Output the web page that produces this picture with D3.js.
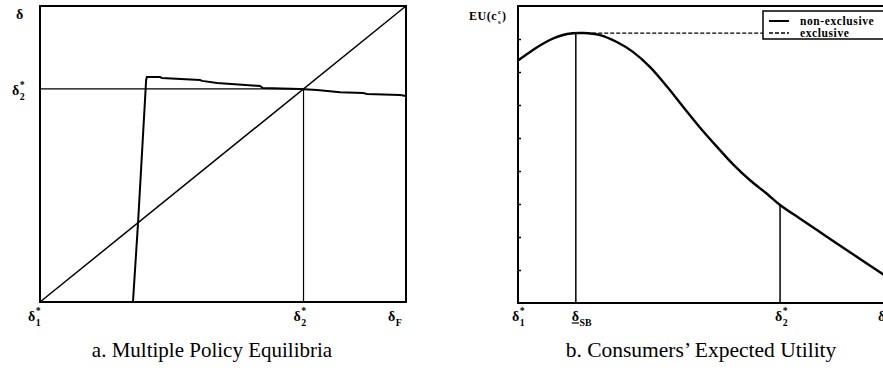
<!DOCTYPE html>
<html>
<head>
<meta charset="utf-8">
<script src="https://cdn.jsdelivr.net/npm/d3@7"></script>
<style>
  html, body { margin: 0; padding: 0; background: #fff; }
  svg { display: block; }
  .lab { font-family: "Liberation Serif", "DejaVu Serif", serif; font-weight: bold; fill: #000; }
  .cap { font-family: "Liberation Serif", "DejaVu Serif", serif; fill: #000; }
</style>
</head>
<body>
<svg id="chart" width="883" height="373"></svg>
<script>
// ---- Panel a: policy response vs. the 45-degree line ----
const diagonal = [[0, 0], [1, 1]];
const delta2Star = 0.72;
// policy response (x, y), stepped as computed on a grid
const policyX = [0.254, 0.268, 0.290, 0.292, 0.328, 0.333, 0.437, 0.443, 0.484, 0.601, 0.609, 0.710, 0.757, 0.820, 0.883, 0.893, 0.984, 1.0];
const policyY = [0.000, 0.270, 0.750, 0.760, 0.760, 0.757, 0.750, 0.747, 0.740, 0.730, 0.723, 0.720, 0.716, 0.709, 0.706, 0.703, 0.699, 0.696];
const ticksA = [
  { x: 0, main: "δ", sup: "*", sub: "1", dx: -12 },
  { x: delta2Star, main: "δ", sup: "*", sub: "2", dx: -10 },
  { x: 1, main: "δ", sup: "", sub: "F", dx: -18 }
];

// ---- Panel b: consumers' expected utility ----
const euX = [0.0, 0.041, 0.087, 0.134, 0.178, 0.224, 0.270, 0.314, 0.361, 0.407, 0.451, 0.497, 0.544, 0.587, 0.634, 0.680, 0.716, 0.770, 0.817, 0.861, 0.907, 0.954, 1.0];
const euNonExclusive = [7.35, 7.67, 7.97, 8.15, 8.18, 8.12, 7.91, 7.61, 7.15, 6.56, 5.95, 5.32, 4.73, 4.21, 3.72, 3.31, 2.97, 2.56, 2.21, 1.88, 1.54, 1.19, 0.85];
const euExclusive = 8.18;
const exclusiveStart = 0.17;
const deltaSB = 0.158;
const delta2StarB = 0.716;
const euTicks = [1, 2, 3, 4, 5, 6, 7, 8];
const ticksB = [
  { x: 0, main: "δ", sup: "*", sub: "1", dx: -6 },
  { x: deltaSB, main: "δ", sup: "", sub: "SB", underline: true, dx: -4 },
  { x: delta2StarB, main: "δ", sup: "*", sub: "2", dx: -5 },
  { x: 1, main: "δ", sup: "", sub: "F", dx: -6 }
];
const legendItems = [
  { name: "non-exclusive", dash: null },
  { name: "exclusive", dash: "4,2" }
];

const svg = d3.select("#chart");

// label with optional superscript / subscript
function symLabel(g, x, y, d, size) {
  const t = g.append("text").attr("class", "lab").attr("x", x).attr("y", y)
    .attr("font-size", size).text(d.main);
  const w = t.node().getComputedTextLength();
  if (d.underline) {
    g.append("line").attr("x1", x).attr("x2", x + w).attr("y1", y + 2).attr("y2", y + 2)
      .attr("stroke", "#000").attr("stroke-width", 1.2);
  }
  if (d.sup) g.append("text").attr("class", "lab").attr("x", x + w + 0.5).attr("y", y - 7)
    .attr("font-size", size * 0.7).text(d.sup);
  if (d.sub) g.append("text").attr("class", "lab").attr("x", x + w + 0.5).attr("y", y + 5)
    .attr("font-size", size * 0.7).text(d.sub);
}

// ---------- Panel a ----------
const xa = d3.scaleLinear().domain([0, 1]).range([40, 406]);
const ya = d3.scaleLinear().domain([0, 1]).range([302, 6]);
const ga = svg.append("g");

ga.append("rect").attr("x", xa(0)).attr("y", ya(1))
  .attr("width", xa(1) - xa(0)).attr("height", ya(0) - ya(1))
  .attr("fill", "none").attr("stroke", "#000").attr("stroke-width", 2);

ga.append("line").attr("x1", xa(0)).attr("x2", xa(delta2Star))
  .attr("y1", ya(delta2Star)).attr("y2", ya(delta2Star))
  .attr("stroke", "#000").attr("stroke-width", 1.4);
ga.append("line").attr("x1", xa(delta2Star)).attr("x2", xa(delta2Star))
  .attr("y1", ya(0)).attr("y2", ya(delta2Star))
  .attr("stroke", "#000").attr("stroke-width", 1.2);

ga.append("path").datum(diagonal)
  .attr("d", d3.line().x(d => xa(d[0])).y(d => ya(d[1])))
  .attr("fill", "none").attr("stroke", "#000").attr("stroke-width", 1.5);

ga.append("path").datum(d3.zip(policyX, policyY))
  .attr("d", d3.line().x(d => xa(d[0])).y(d => ya(d[1])))
  .attr("fill", "none").attr("stroke", "#000").attr("stroke-width", 2)
  .attr("stroke-linejoin", "miter");

symLabel(ga, 16, 19, { main: "δ" }, 14);
symLabel(ga, 12, 95, { main: "δ", sup: "*", sub: "2" }, 14);
ticksA.forEach(d => symLabel(ga, xa(d.x) + d.dx, 321, d, 14));

ga.append("text").attr("class", "cap").attr("x", 212).attr("y", 357)
  .attr("text-anchor", "middle").attr("font-size", 21).text("a. Multiple Policy Equilibria");

// ---------- Panel b ----------
const xb = d3.scaleLinear().domain([0, 1]).range([518, 884]);
const yb = d3.scaleLinear().domain([0, 9]).range([303, 6]);
const gb = svg.append("g");

gb.append("path")
  .attr("d", `M${xb(1)},${yb(9)}H${xb(0)}V${yb(0)}H${xb(1)}`)
  .attr("fill", "none").attr("stroke", "#000").attr("stroke-width", 2);

// inward ticks on the utility axis
gb.append("g").attr("transform", `translate(${xb(0)},0)`)
  .call(d3.axisRight(yb).tickValues(euTicks).tickSize(3).tickFormat(""))
  .call(g => g.select(".domain").remove())
  .call(g => g.selectAll(".tick line").attr("stroke-width", 1.5));

const euPts = d3.zip(euX, euNonExclusive);
const euAt = x => {
  const i = d3.bisector(d => d[0]).right(euPts, x);
  const a = euPts[Math.max(0, i - 1)], b = euPts[Math.min(euPts.length - 1, i)];
  return a[0] === b[0] ? a[1] : a[1] + (b[1] - a[1]) * (x - a[0]) / (b[0] - a[0]);
};

[deltaSB, delta2StarB].forEach(x => {
  gb.append("line").attr("x1", xb(x)).attr("x2", xb(x))
    .attr("y1", yb(0)).attr("y2", yb(euAt(x)))
    .attr("stroke", "#000").attr("stroke-width", 1.5);
});

gb.append("line").attr("x1", xb(exclusiveStart)).attr("x2", xb(1))
  .attr("y1", yb(euExclusive)).attr("y2", yb(euExclusive))
  .attr("stroke", "#000").attr("stroke-width", 1.3).attr("stroke-dasharray", "4,2");

gb.append("path").datum(euPts)
  .attr("d", d3.line().curve(d3.curveCatmullRom.alpha(0.5)).x(d => xb(d[0])).y(d => yb(d[1])))
  .attr("fill", "none").attr("stroke", "#000").attr("stroke-width", 2.4);

// legend
const lg = gb.append("g").attr("transform", "translate(763,11)");
lg.append("rect").attr("x", 0).attr("y", 0).attr("width", 130).attr("height", 28)
  .attr("fill", "#fff").attr("stroke", "#000").attr("stroke-width", 1.5);
legendItems.forEach((d, i) => {
  const yy = 10 + i * 12;
  lg.append("line").attr("x1", 6).attr("x2", 26).attr("y1", yy).attr("y2", yy)
    .attr("stroke", "#000").attr("stroke-width", d.dash ? 1.3 : 2)
    .attr("stroke-dasharray", d.dash);
  lg.append("text").attr("class", "lab").attr("x", 37).attr("y", yy + 3.5)
    .attr("font-size", 11.5).attr("letter-spacing", 0.6).text(d.name);
});

// utility axis title
const euMain = gb.append("text").attr("class", "lab").attr("x", 469).attr("y", 20)
  .attr("font-size", 12).attr("letter-spacing", 0.5).text("EU(c");
const euW = euMain.node().getComputedTextLength();
gb.append("text").attr("class", "lab").attr("x", 469 + euW + 1).attr("y", 14).attr("font-size", 7).text("c");
gb.append("text").attr("class", "lab").attr("x", 469 + euW + 1).attr("y", 24).attr("font-size", 7).text("s");
gb.append("text").attr("class", "lab").attr("x", 469 + euW + 5).attr("y", 20).attr("font-size", 12).text(")");

ticksB.forEach(d => symLabel(gb, xb(d.x) + d.dx, 321, d, 14));

gb.append("text").attr("class", "cap").attr("x", 701).attr("y", 357)
  .attr("text-anchor", "middle").attr("font-size", 21.5).text("b. Consumers’ Expected Utility");
</script>
</body>
</html>
